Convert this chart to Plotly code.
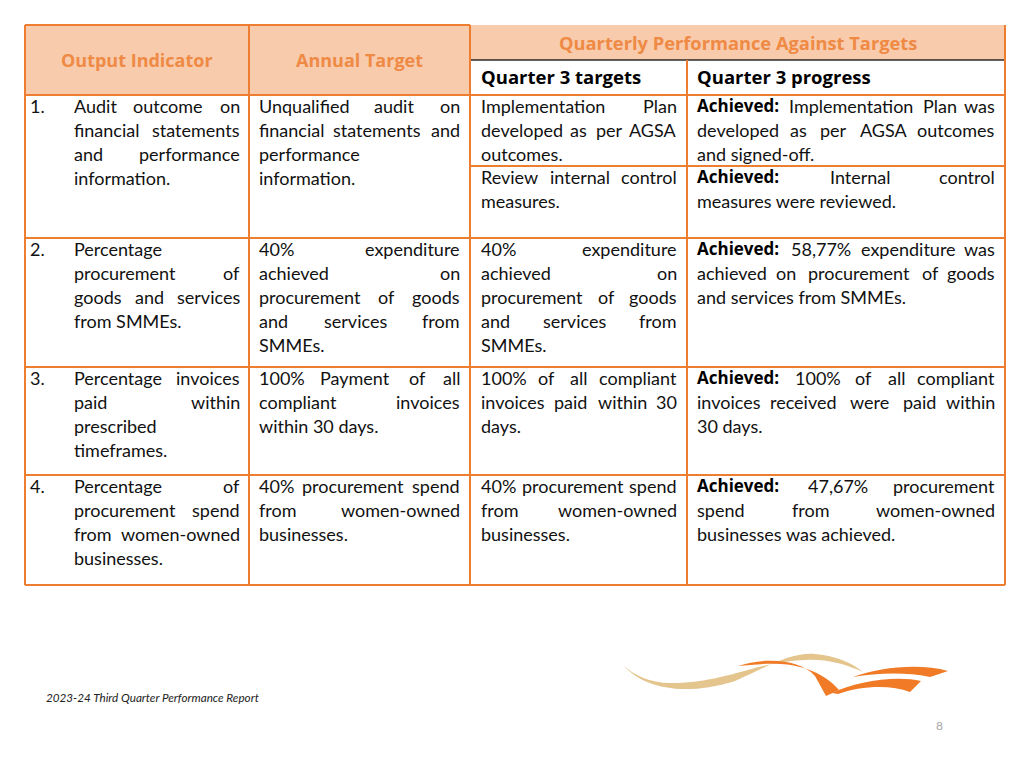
import plotly.graph_objects as go

# ---------------- data ----------------
header_left = ["Output Indicator", "Annual Target"]
header_group = "Quarterly Performance Against Targets"
header_sub = ["Quarter 3 targets", "Quarter 3 progress"]

row_numbers = ["1.", "2.", "3.", "4."]

indicators = [
    ["Audit outcome on", "financial statements", "and performance", "information."],
    ["Percentage", "procurement of", "goods and services", "from SMMEs."],
    ["Percentage invoices", "paid within", "prescribed", "timeframes."],
    ["Percentage of", "procurement spend", "from women-owned", "businesses."],
]

annual_targets = [
    ["Unqualified audit on", "financial statements and", "performance", "information."],
    ["40% expenditure", "achieved on", "procurement of goods", "and services from", "SMMEs."],
    ["100% Payment of all", "compliant invoices", "within 30 days."],
    ["40% procurement spend", "from women-owned", "businesses."],
]

# row 1 of the quarterly columns is split in two sub-rows
q3_targets = [
    [["Implementation Plan", "developed as per AGSA", "outcomes."],
     ["Review internal control", "measures."]],
    [["40% expenditure", "achieved on", "procurement of goods", "and services from", "SMMEs."]],
    [["100% of all compliant", "invoices paid within 30", "days."]],
    [["40% procurement spend", "from women-owned", "businesses."]],
]

q3_progress = [
    [["Achieved: Implementation Plan was", "developed as per AGSA outcomes", "and signed-off."],
     ["Achieved: Internal control", "measures were reviewed."]],
    [["Achieved: 58,77% expenditure was", "achieved on procurement of goods", "and services from SMMEs."]],
    [["Achieved: 100% of all compliant", "invoices received were paid within", "30 days."]],
    [["Achieved: 47,67% procurement", "spend from women-owned", "businesses was achieved."]],
]

footer_text = "2023-24 Third Quarter Performance Report"
page_number = "8"

# ---------------- layout constants ----------------
W, H = 1024, 768
TL, TR, TT, TB = 25, 1005, 25, 585
COLS = [25, 249, 470, 687, 1005]
GROUP_LINE = 60
HEAD_BOTTOM = 95
ROW_TOPS = [95, 238, 367, 475, 585]
SUB_ROW = 166
TEXT_X = [(72, 242), (257, 462), (479, 679), (695, 997)]
NUM_X = 28
LINE_H = 24
FIRST_OFF = 10.5

ORANGE = "#ED7D31"
PEACH = "#F8CBAD"
HEAD_TXT = "#EF8A45"
BODY_FONT = "Lato"
BOLD_FONT = "Open Sans"
BODY_SIZE = 18
BOLD_SIZE = 17

# approximate advance widths (em)
LATO = {' ': .193, 'a': .49, 'b': .55, 'c': .45, 'd': .55, 'e': .52, 'f': .32, 'g': .50,
        'h': .55, 'i': .235, 'j': .235, 'k': .50, 'l': .235, 'm': .83, 'n': .55, 'o': .55,
        'p': .55, 'q': .55, 'r': .37, 's': .42, 't': .34, 'u': .55, 'v': .50, 'w': .75,
        'x': .49, 'y': .50, 'z': .45, 'A': .68, 'B': .63, 'C': .68, 'D': .74, 'E': .56,
        'F': .54, 'G': .72, 'H': .75, 'I': .29, 'L': .50, 'M': .91, 'N': .75, 'O': .80,
        'P': .60, 'Q': .80, 'R': .62, 'S': .53, 'T': .60, 'U': .72, '%': .80, '.': .22,
        ',': .22, '-': .35, ':': .24}
OSB = {' ': .26, 'a': .60, 'c': .53, 'd': .66, 'e': .60, 'h': .66, 'i': .31, 'v': .59,
       ':': .29, 'A': .73}


def width(s, table, size, default=.55):
    return sum(table.get(ch, default) for ch in s) * size


fig = go.Figure()
shapes = []
annots = []

# header fills
shapes.append(dict(type="rect", x0=TL, x1=COLS[2], y0=TT, y1=HEAD_BOTTOM,
                   fillcolor=PEACH, line_width=0, layer="below"))
shapes.append(dict(type="rect", x0=COLS[2], x1=TR, y0=TT, y1=GROUP_LINE,
                   fillcolor=PEACH, line_width=0, layer="below"))


def hline(y, x0, x1, color=ORANGE, w=2):
    shapes.append(dict(type="line", x0=x0, x1=x1, y0=y, y1=y, line=dict(color=color, width=w)))


def vline(x, y0, y1, color=ORANGE, w=2):
    shapes.append(dict(type="line", x0=x, x1=x, y0=y0, y1=y1, line=dict(color=color, width=w)))


hline(TT, TL, COLS[2])
for y in ROW_TOPS:
    hline(y, TL, TR)
hline(SUB_ROW, COLS[2], TR)
hline(GROUP_LINE, COLS[2], TR, color="#2b2b2b", w=1.5)
vline(TL, TT, TB)
vline(TR, TT, TB)
vline(COLS[1], TT, TB)
vline(COLS[2], TT, TB)
vline(COLS[3], GROUP_LINE, TB)


def ann(x, y, text, xanchor="left", family=BODY_FONT, size=BODY_SIZE, color="#111111"):
    annots.append(dict(x=x, y=y, text=text, showarrow=False, xanchor=xanchor, yanchor="middle",
                       font=dict(family=family, size=size, color=color)))


# headers
ann((COLS[0] + COLS[1]) / 2, 59.5, "<b>%s</b>" % header_left[0], "center", BOLD_FONT, 18, HEAD_TXT)
ann((COLS[1] + COLS[2]) / 2, 59.5, "<b>%s</b>" % header_left[1], "center", BOLD_FONT, 18, HEAD_TXT)
ann((COLS[2] + COLS[4]) / 2, 42.5, "<b>%s</b>" % header_group, "center", BOLD_FONT, 18.3, HEAD_TXT)
ann(TEXT_X[2][0], 76.5, "<b>%s</b>" % header_sub[0], "left", BOLD_FONT, 18.5, "#000000")
ann(TEXT_X[3][0], 76.5, "<b>%s</b>" % header_sub[1], "left", BOLD_FONT, 18.5, "#000000")


def word_items(line, allow_bold):
    items = []
    for i, wd in enumerate(line.split(" ")):
        bold = allow_bold and i == 0 and wd == "Achieved:"
        if bold:
            items.append((wd, True, width(wd, OSB, BOLD_SIZE, .6)))
        else:
            items.append((wd, False, width(wd, LATO, BODY_SIZE)))
    return items


def put_word(x, y, wd, bold, anchor):
    if bold:
        ann(x, y, "<b>%s</b>" % wd, anchor, BOLD_FONT, BOLD_SIZE, "#000000")
    else:
        ann(x, y, wd, anchor)


def paragraph(lines, x0, x1, top, allow_bold=False):
    for k, line in enumerate(lines):
        y = top + FIRST_OFF + k * LINE_H
        items = word_items(line, allow_bold)
        last = k == len(lines) - 1
        if last or len(items) == 1:
            x = x0
            sp = LATO[' '] * BODY_SIZE
            if any(b for _, b, _ in items):
                for wd, b, wdt in items:
                    put_word(x, y, wd, b, "left")
                    x += wdt + sp
            else:
                ann(x0, y, line)
            continue
        total = sum(w for _, _, w in items)
        gap = (x1 - x0 - total) / (len(items) - 1)
        x = x0
        for j, (wd, b, wdt) in enumerate(items):
            if j == 0:
                put_word(x0, y, wd, b, "left")
            elif j == len(items) - 1:
                put_word(x1, y, wd, b, "right")
            else:
                put_word(x + wdt / 2, y, wd, b, "center")
            x += wdt + gap


for r in range(4):
    top = ROW_TOPS[r]
    ann(NUM_X, top + FIRST_OFF, row_numbers[r])
    paragraph(indicators[r], TEXT_X[0][0], TEXT_X[0][1], top)
    paragraph(annual_targets[r], TEXT_X[1][0], TEXT_X[1][1], top)
    for s, para in enumerate(q3_targets[r]):
        paragraph(para, TEXT_X[2][0], TEXT_X[2][1], top if s == 0 else SUB_ROW)
    for s, para in enumerate(q3_progress[r]):
        paragraph(para, TEXT_X[3][0], TEXT_X[3][1], top if s == 0 else SUB_ROW, allow_bold=True)

# footer
ann(44, 697, "<i>%s</i>" % footer_text, "left", BODY_FONT, 11.7, "#222222")
ann(939, 725, page_number, "center", BODY_FONT, 12, "#A6A6A6")

# logo swooshes
TAN = "#E3C58D"
LOGO_OR = "#F07A26"
shapes.append(dict(type="path", fillcolor=TAN, line_width=0,
                   path="M 624,666 C 642,686 680,698 735,681 C 765,668 790,652 815,654 "
                        "C 838,656 853,664 863,672 C 845,664 826,659 806,660 "
                        "C 782,661 762,666 748,670 C 728,675 705,683 670,683 "
                        "C 650,683 634,675 624,666 Z"))
shapes.append(dict(type="path", fillcolor=LOGO_OR, line_width=0,
                   path="M 738,666 C 765,657 800,659 815,676 L 826,696 L 839,690 "
                        "C 826,675 805,665 780,664 C 765,663 750,665 738,666 Z"))
shapes.append(dict(type="path", fillcolor=LOGO_OR, line_width=0,
                   path="M 832,693 C 855,682 895,675 921,681 L 910,692 "
                        "C 890,684 860,686 838,694 Z"))
shapes.append(dict(type="path", fillcolor=LOGO_OR, line_width=0,
                   path="M 853,677 C 880,667 920,663 948,671 L 930,677 "
                        "C 905,672 878,673 853,677 Z"))

fig.update_layout(
    width=W, height=H, margin=dict(l=0, r=0, t=0, b=0),
    paper_bgcolor="white", plot_bgcolor="white",
    xaxis=dict(range=[0, W], visible=False, fixedrange=True),
    yaxis=dict(range=[H, 0], visible=False, fixedrange=True),
    shapes=shapes, annotations=annots, showlegend=False,
)

fig.write_html("out.html", config={"displayModeBar": False},
               post_script="document.body.style.margin='0';document.body.style.overflow='hidden';")
